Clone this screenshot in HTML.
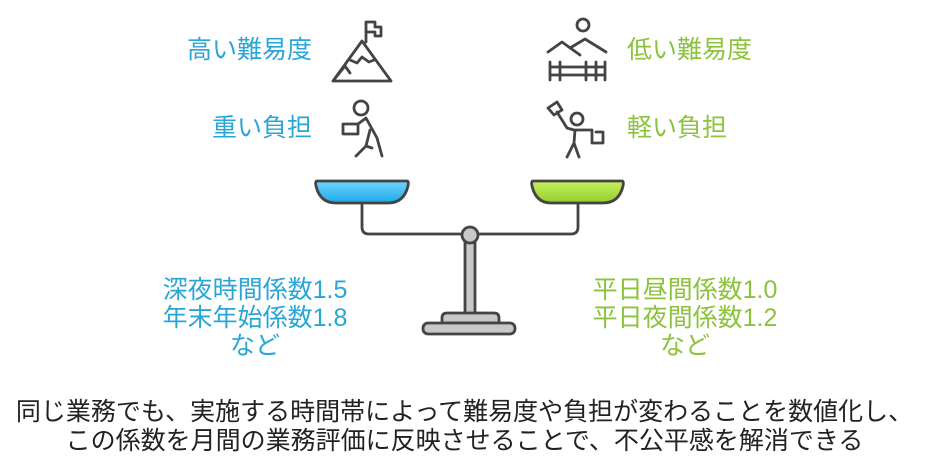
<!DOCTYPE html>
<html><head><meta charset="utf-8"><style>
body{margin:0;width:929px;height:471px;background:#fff;position:relative;overflow:hidden;font-family:"Liberation Sans","Noto Sans CJK JP",sans-serif}
.t{position:absolute;font-size:25px;white-space:nowrap;line-height:28px}
.b{color:#2aa6d6}.g{color:#8cc33c}
</style></head><body>
<div class="t b" style="right:617px;top:36px">高い難易度</div>
<div class="t b" style="right:617px;top:114px">重い負担</div>
<div class="t g" style="left:627px;top:36px">低い難易度</div>
<div class="t g" style="left:627px;top:114px">軽い負担</div>
<div class="t b" style="left:135px;width:240px;text-align:center;top:276px">深夜時間係数1.5<br>年末年始係数1.8<br>など</div>
<div class="t g" style="left:565px;width:240px;text-align:center;top:276px">平日昼間係数1.0<br>平日夜間係数1.2<br>など</div>
<div class="t" style="left:0;width:929px;text-align:center;top:398px;color:#222;line-height:29px">同じ業務でも、実施する時間帯によって難易度や負担が変わることを数値化し、<br>この係数を月間の業務評価に反映させることで、不公平感を解消できる</div>
<svg width="929" height="471" style="position:absolute;left:0;top:0" fill="none" stroke="#444" stroke-width="2.8" stroke-linecap="round" stroke-linejoin="round">
<defs>
<linearGradient id="bl" x1="0" y1="0" x2="0" y2="1"><stop offset="0" stop-color="#6fd6ff"/><stop offset="1" stop-color="#1ea9e6"/></linearGradient>
<linearGradient id="gr" x1="0" y1="0" x2="0" y2="1"><stop offset="0" stop-color="#c8f060"/><stop offset="1" stop-color="#90cf2c"/></linearGradient>
</defs>
<path d="M333 81 L362 41 L391 81 Z M333 81 L345 66 L350 73 M350 60 L357 63 L362 57 L369 62 L374 60 M366 42 L366 22 M366 22 L375 22 L375 27 L381 27 L381 36 L375 36 L375 32 L366 32"/>
<circle cx="583" cy="25" r="6"/>
<path d="M548 52 L562 42 L580 55 M570 48 L585 39 L606 52 M550 62 L550 80 M560 62 L560 80 M586 62 L586 80 M596 62 L596 80 M605 62 L605 80 M550 67 L605 67 M550 75 L605 75"/>
<circle cx="361" cy="108" r="7"/>
<path d="M343 124 L358 124 L358 134 L343 134 Z M358 124 L366 118 L377 138 L382 156 M370 130 L366 146 L356 156 M366 146 L372 148"/>
<circle cx="577" cy="119" r="6"/>
<path d="M548 108 L557 102 L562 110 L554 115 Z M557 112 L567 128 L574 130 L592 130 M575 130 L574 143 L567 157 M574 143 L579 157 M592 130 L592 143 L603 143 L603 132 L596 132"/>
<path d="M362 203 L362 227 Q362 234 369 234 L462 234 M478 234 L571 234 Q578 234 578 227 L578 203"/>
<path d="M317 181 L407 181 Q409 181 408 186 Q404 203 388 203 L336 203 Q320 203 316 186 Q315 181 317 181 Z" fill="url(#bl)"/>
<path d="M533 181 L622 181 Q624 181 623 186 Q619 203 603 203 L551 203 Q536 203 532 186 Q531 181 533 181 Z" fill="url(#gr)"/>
<rect x="465" y="242" width="10" height="72" fill="#c8c8c8"/>
<circle cx="470" cy="235" r="8" fill="#c8c8c8"/>
<path d="M442 323 L442 318 Q442 313 447 313 L494 313 Q499 313 499 318 L499 323 Z" fill="#c8c8c8"/>
<rect x="423" y="323" width="92" height="11" rx="5" fill="#c8c8c8"/>
</svg>
</body></html>
